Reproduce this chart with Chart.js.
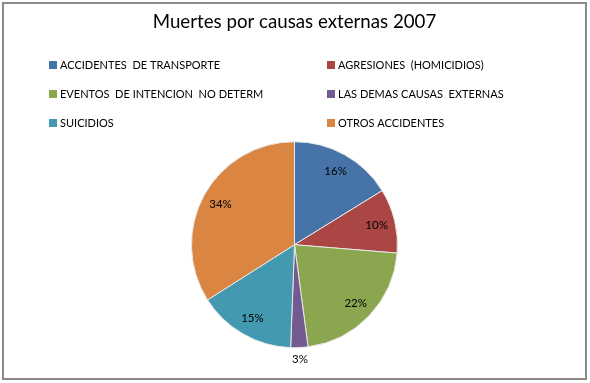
<!DOCTYPE html>
<html>
<head>
<meta charset="utf-8">
<script src="https://cdn.jsdelivr.net/npm/chart.js@4"></script>
<style>
  html, body { margin: 0; padding: 0; background: #fff; }
  #wrap { position: relative; width: 590px; height: 383px; }
  #frame { position: absolute; left: 2px; top: 2px; width: 581px; height: 374px; border: 2px solid #8a8a8a; }
  canvas { position: absolute; left: 0; top: 0; }
</style>
</head>
<body>
<div id="wrap">
  <div id="frame"></div>
  <canvas id="pieChart" width="590" height="383"></canvas>
</div>
<script>
const categories = [
  'ACCIDENTES  DE TRANSPORTE',
  'AGRESIONES  (HOMICIDIOS)',
  'EVENTOS  DE INTENCION  NO DETERM',
  'LAS DEMAS CAUSAS  EXTERNAS',
  'SUICIDIOS',
  'OTROS ACCIDENTES',
];
const shares = [16.2, 10.1, 21.6, 2.7, 15.4, 34.0];
const colors = ['#4674A8', '#AA4644', '#8AA64F', '#735A91', '#4399B0', '#DA8542'];

const FONT = 'Lato, "Open Sans", sans-serif';

// two column legend, drawn in the gap under the title
const gridLegend = {
  id: 'gridLegend',
  afterDraw(chart) {
    const ctx = chart.ctx;
    ctx.save();
    ctx.font = '11px ' + FONT;
    ctx.textBaseline = 'middle';
    chart.data.labels.forEach((label, i) => {
      const col = i % 2;
      const row = Math.floor(i / 2);
      const x = col === 0 ? 49 : 327;
      const y = 65 + row * 29;
      ctx.fillStyle = colors[i];
      ctx.fillRect(x, y - 4, 8, 8);
      ctx.fillStyle = '#000';
      ctx.fillText(label, x + 11, y);
    });
    ctx.restore();
  },
};

// percentage labels on the slices
const sliceLabels = {
  id: 'sliceLabels',
  afterDatasetsDraw(chart) {
    const ctx = chart.ctx;
    const meta = chart.getDatasetMeta(0);
    const data = chart.data.datasets[0].data;
    const total = data.reduce((a, b) => a + b, 0);
    ctx.save();
    ctx.font = '11.5px ' + FONT;
    ctx.fillStyle = '#000';
    ctx.textAlign = 'center';
    ctx.textBaseline = 'middle';
    meta.data.forEach((arc, i) => {
      const p = arc.getProps(['x', 'y', 'startAngle', 'endAngle', 'outerRadius']);
      const mid = (p.startAngle + p.endAngle) / 2;
      const pct = data[i] / total * 100;
      const r = pct < 5 ? p.outerRadius + 12 : p.outerRadius * 0.82;
      ctx.fillText(Math.round(pct) + '%', p.x + Math.cos(mid) * r, p.y + Math.sin(mid) * r);
    });
    ctx.restore();
  },
};

new Chart(document.getElementById('pieChart'), {
  type: 'pie',
  data: {
    labels: categories,
    datasets: [{
      data: shares,
      backgroundColor: colors,
      borderColor: '#e8e8e8',
      borderWidth: 1,
      radius: 103,
    }],
  },
  options: {
    responsive: false,
    animation: false,
    layout: { padding: { top: 11, bottom: 35, left: 0, right: 1 } },
    plugins: {
      legend: { display: false },
      tooltip: { enabled: false },
      title: {
        display: true,
        text: 'Muertes por causas externas 2007',
        color: '#000',
        font: { family: FONT, size: 18.7, weight: 'normal' },
        padding: { top: 0, bottom: 108 },
      },
    },
  },
  plugins: [gridLegend, sliceLabels],
});
</script>
</body>
</html>
